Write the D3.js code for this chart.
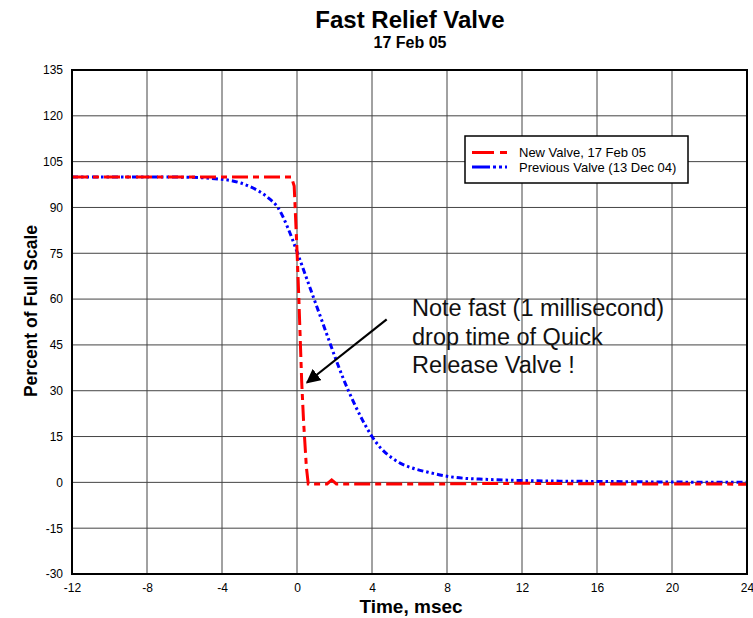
<!DOCTYPE html>
<html>
<head>
<meta charset="utf-8">
<script src="https://cdn.jsdelivr.net/npm/d3@7"></script>
<style>
  html, body { margin: 0; padding: 0; background: #fff; }
  svg { display: block; font-family: "Liberation Sans", Arial, sans-serif; }
</style>
</head>
<body>
<svg id="chart" width="753" height="618"></svg>
<script>
// ---- data ----
const xTicks = [-12, -8, -4, 0, 4, 8, 12, 16, 20, 24];
const yTicks = [-30, -15, 0, 15, 30, 45, 60, 75, 90, 105, 120, 135];

const timeNew = [-12, -8, -4, -1, -0.3, -0.15, 0, 0.1, 0.25, 0.35, 0.5, 0.6, 1, 1.6, 1.85, 2.1, 4, 8, 12, 16, 20, 24];
const newValve = [100, 100, 100, 100, 100, 97, 76, 60, 33, 20, 5, -0.5, -0.5, -0.5, 0.8, -0.5, -0.5, -0.5, -0.3, -0.5, -0.5, -0.6];

const timePrev = [-12, -8, -6, -5, -4, -3.5, -3, -2.5, -2, -1.5, -1, -0.5, 0, 0.5, 1, 1.5, 2, 2.5, 3, 3.5, 4, 4.5, 5, 5.5, 6, 7, 8, 9, 10, 12, 14, 16, 20, 24];
const prevValve = [100, 100, 99.9, 99.7, 99.2, 98.8, 98, 96.8, 95.2, 93, 89.8, 83.5, 75.5, 67, 58.5, 50, 41.5, 33.5, 26.5, 20.3, 15, 11, 8.3, 6.3, 5, 3.3, 2, 1.3, 1, 0.6, 0.4, 0.3, 0.1, 0];

const seriesNames = ["New Valve, 17 Feb 05", "Previous Valve (13 Dec 04)"];
const titleText = "Fast Relief Valve";
const subtitleText = "17 Feb 05";
const xLabel = "Time, msec";
const yLabel = "Percent of Full Scale";
const noteLines = ["Note fast (1 millisecond)", "drop time of Quick", "Release Valve !"];

// ---- layout ----
const svg = d3.select("#chart");
const L = 72, R = 747, T = 70, B = 574;

const x = d3.scaleLinear().domain([-12, 24]).range([L, R]);
const y = d3.scaleLinear().domain([-30, 135]).range([B, T]);

// grid
const grid = svg.append("g");
grid.selectAll("line.v").data(xTicks.slice(1, -1)).join("line")
  .attr("x1", d => x(d)).attr("x2", d => x(d))
  .attr("y1", T).attr("y2", B)
  .attr("stroke", "#444").attr("stroke-width", 1);
grid.selectAll("line.h").data(yTicks.slice(1, -1)).join("line")
  .attr("y1", d => y(d)).attr("y2", d => y(d))
  .attr("x1", L).attr("x2", R)
  .attr("stroke", "#444").attr("stroke-width", 1);

// axes (labels only, via d3 axis)
const xAxis = svg.append("g").attr("transform", `translate(0,${B})`)
  .call(d3.axisBottom(x).tickValues(xTicks).tickSize(0).tickPadding(9).tickFormat(d => String(d)));
const yAxis = svg.append("g").attr("transform", `translate(${L},0)`)
  .call(d3.axisLeft(y).tickValues(yTicks).tickSize(0).tickPadding(9).tickFormat(d => String(d)));
[xAxis, yAxis].forEach(a => {
  a.select(".domain").remove();
  a.selectAll("text").attr("font-size", 12).attr("fill", "#000")
    .attr("font-family", "'Liberation Sans', Arial, sans-serif");
});

// lines
const lineNew = d3.line().x(d => x(d[0])).y(d => y(d[1]));
const linePrev = d3.line().x(d => x(d[0])).y(d => y(d[1])).curve(d3.curveMonotoneX);

svg.append("clipPath").attr("id", "clip").append("rect")
  .attr("x", L).attr("y", T).attr("width", R - L).attr("height", B - T);

const plot = svg.append("g").attr("clip-path", "url(#clip)");
plot.append("path")
  .datum(timePrev.map((t, i) => [t, prevValve[i]]))
  .attr("d", linePrev).attr("fill", "none")
  .attr("stroke", "#0000ff").attr("stroke-width", 3)
  .attr("stroke-dasharray", "6,3,2.5,3,2.5,3");
plot.append("path")
  .datum(timeNew.map((t, i) => [t, newValve[i]]))
  .attr("d", lineNew).attr("fill", "none")
  .attr("stroke", "#ff0000").attr("stroke-width", 3)
  .attr("stroke-dasharray", "16,5,6,5");

// frame
svg.append("rect").attr("x", L).attr("y", T).attr("width", R - L).attr("height", B - T)
  .attr("fill", "none").attr("stroke", "#000").attr("stroke-width", 2);

// legend
const lg = svg.append("g");
lg.append("rect").attr("x", 465).attr("y", 136).attr("width", 223).attr("height", 47)
  .attr("fill", "#fff").attr("stroke", "#000").attr("stroke-width", 1.5);
const legendItems = [
  { name: seriesNames[0], color: "#ff0000", dash: "22,6,7,6" },
  { name: seriesNames[1], color: "#0000ff", dash: "18,3,3,3,3,3" }
];
legendItems.forEach((it, i) => {
  const ly = 152.5 + i * 14.5;
  lg.append("line").attr("x1", 472).attr("x2", 507).attr("y1", ly).attr("y2", ly)
    .attr("stroke", it.color).attr("stroke-width", 3).attr("stroke-dasharray", it.dash);
  lg.append("text").attr("x", 519).attr("y", ly + 4.5).attr("font-size", 13)
    .attr("fill", "#000").text(it.name);
});

// titles
svg.append("text").attr("x", 410).attr("y", 28).attr("text-anchor", "middle")
  .attr("font-size", 24).attr("font-weight", "bold").text(titleText);
svg.append("text").attr("x", 410).attr("y", 48).attr("text-anchor", "middle")
  .attr("font-size", 16).attr("font-weight", "bold").text(subtitleText);
svg.append("text").attr("x", 411).attr("y", 613).attr("text-anchor", "middle")
  .attr("font-size", 19).attr("font-weight", "bold").text(xLabel);
svg.append("text").attr("transform", "translate(37,311) rotate(-90)").attr("text-anchor", "middle")
  .attr("font-size", 17.5).attr("font-weight", "bold").text(yLabel);

// annotation
const note = svg.append("text").attr("font-size", 23.5).attr("fill", "#111");
noteLines.forEach((s, i) => {
  note.append("tspan").attr("x", 412).attr("y", 316 + i * 28.5).text(s);
});

// arrow
svg.append("defs").append("marker").attr("id", "ah")
  .attr("viewBox", "0 0 10 10").attr("refX", 9).attr("refY", 5)
  .attr("markerWidth", 6.5).attr("markerHeight", 6.5).attr("orient", "auto")
  .append("path").attr("d", "M0,0 L10,5 L0,10 z").attr("fill", "#000");
svg.append("line").attr("x1", 386.7).attr("y1", 319.3).attr("x2", 307).attr("y2", 382.5)
  .attr("stroke", "#000").attr("stroke-width", 2.2).attr("marker-end", "url(#ah)");
</script>
</body>
</html>
